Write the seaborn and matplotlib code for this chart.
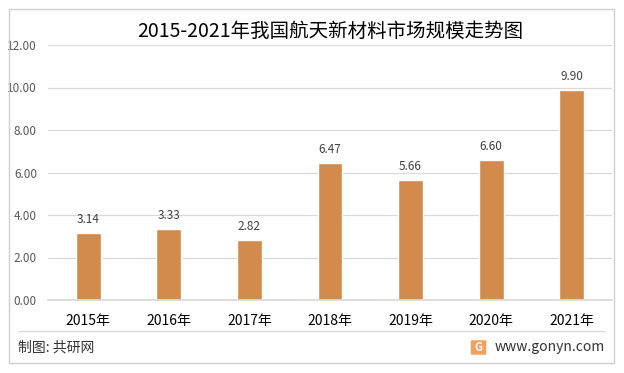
import matplotlib
matplotlib.use("Agg")
import matplotlib.pyplot as plt
import seaborn as sns
from matplotlib.patches import Rectangle, FancyBboxPatch
from matplotlib.lines import Line2D

years = ['2015年', '2016年', '2017年', '2018年', '2019年', '2020年', '2021年']
market = [3.14, 3.33, 2.82, 6.47, 5.66, 6.60, 9.90]
y_ticks = [0, 2, 4, 6, 8, 10, 12]

bar_color = '#D38B4D'
grid_color = '#D9D9D9'

sns.set_theme(style='white')
plt.rcParams['font.family'] = ['Noto Sans CJK SC', 'DejaVu Sans']

fig = plt.figure(figsize=(6.24, 3.73), dpi=100)
ax = fig.add_axes([48 / 624, 1 - 300 / 373, 564 / 624, 255 / 373])

sns.barplot(x=years, y=market, color=bar_color, saturation=1, width=0.31, ax=ax)
ax.bar_label(ax.containers[0], fmt='%.2f', padding=5, fontsize=8.5, color='#404040')

ax.set_ylim(0, 12)
ax.set_xlim(-0.5, 6.5)
ax.set_yticks(y_ticks)
ax.set_yticklabels([f'{v:.2f}' for v in y_ticks], fontsize=8.5, color='#595959')
ax.tick_params(axis='x', labelsize=10, colors='#000000', length=0, pad=10)
ax.tick_params(axis='y', length=0, pad=8)
ax.yaxis.grid(True, color=grid_color, linewidth=0.9)
ax.set_axisbelow(True)
for s in ['top', 'right', 'left']:
    ax.spines[s].set_visible(False)
ax.spines['bottom'].set_color(grid_color)
ax.set_xlabel('')
ax.set_ylabel('')

fig.text(330 / 624, 1 - 31 / 373, '2015-2021年我国航天新材料市场规模走势图',
         ha='center', va='center', fontsize=14, color='#000000')

# frame and footer
fig.patches.append(Rectangle((9 / 624, 1 - 363 / 373), 605 / 624, 354 / 373,
                             transform=fig.transFigure, fill=False,
                             edgecolor='#D0D0D0', linewidth=1))
fig.lines.append(Line2D([18 / 624, 605 / 624], [1 - 331 / 373, 1 - 331 / 373],
                        transform=fig.transFigure, color='#D9D9D9', linewidth=0.9))
fig.text(18 / 624, 1 - 347 / 373, '制图: 共研网', ha='left', va='center',
         fontsize=10, color='#333333')
fig.text(605 / 624, 1 - 347 / 373, 'www.gonyn.com', ha='right', va='center',
         fontsize=10, color='#333333')
fig.patches.append(FancyBboxPatch((472 / 624, 1 - 354 / 373), 13 / 624, 13 / 373,
                                  boxstyle='round,pad=0.002', transform=fig.transFigure,
                                  facecolor='#F0A060', edgecolor='none'))
fig.text(478.5 / 624, 1 - 347.5 / 373, 'G', ha='center', va='center',
         fontsize=8, color='white', fontweight='bold')

fig.savefig('out.png', dpi=100)
